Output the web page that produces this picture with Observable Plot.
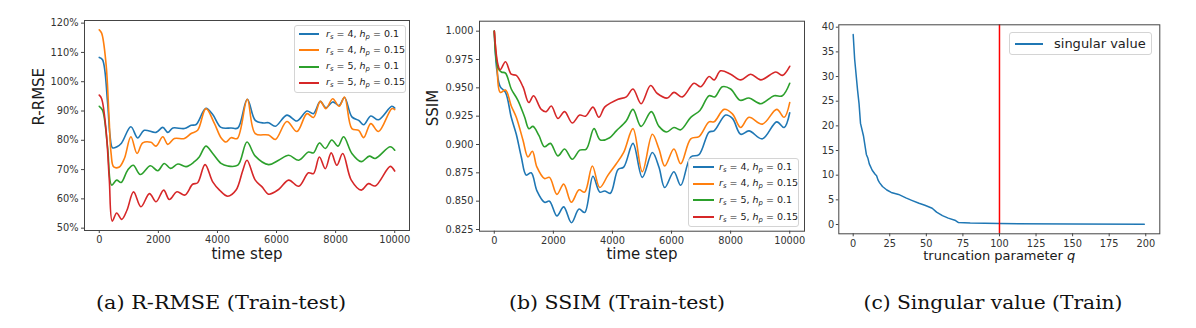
<!DOCTYPE html>
<html><head><meta charset="utf-8">
<script src="https://cdn.jsdelivr.net/npm/d3@7"></script>
<script src="https://cdn.jsdelivr.net/npm/@observablehq/plot@0.6"></script>
<style>
body{margin:0;background:#fff;}
#root{position:relative;width:1196px;height:328px;overflow:hidden;font-family:"DejaVu Sans",sans-serif;background:#fff;}
.panel{position:absolute;top:0;}
.legend{position:absolute;background:rgba(255,255,255,0.85);border:1px solid #d4d4d4;border-radius:3px;box-sizing:border-box;}
.legend .sw{position:absolute;height:2px;}
.legend .lab{position:absolute;white-space:nowrap;color:#222;line-height:1;}
.legend .lab sub{font-size:72%;vertical-align:-2px;line-height:0;}
#caps{position:absolute;left:0;top:0;}
</style></head><body><div id="root"></div>
<script>
// ---------- data ----------
const seriesLabels = ["r_s = 4, h_p = 0.1", "r_s = 4, h_p = 0.15", "r_s = 5, h_p = 0.1", "r_s = 5, h_p = 0.15"];
const seriesColors = ["#1f77b4", "#ff7f0e", "#2ca02c", "#d62728"];

// (a) R-RMSE (%), [time step, value]
const rrmse_r4_h010 = [[0,108.3],[110,107.5],[280,93],[360,82],[450,77.4],[600,77.8],[750,79],[1070,84.6],[1300,80.8],[1520,83.4],[1920,82.7],[2150,84.4],[2320,82.7],[2490,84.2],[2880,84],[3110,85.1],[3280,85.4],[3610,90.9],[3840,88.8],[4120,84.4],[4460,84.2],[4690,84.2],[5010,94],[5280,86.8],[5560,85.9],[5730,86],[5960,84.8],[6350,88.6],[6690,86.6],[7030,90],[7250,89.1],[7480,93.3],[7670,91.1],[7900,93.1],[8120,91.9],[8300,94.6],[8550,88],[8780,86.8],[8950,85.3],[9190,88.3],[9450,87],[9900,91.6],[10000,91]];
const rrmse_r4_h015 = [[0,117.7],[80,116.6],[230,106],[330,88],[400,75.5],[490,70.9],[680,70.9],[850,73.8],[1070,81.2],[1280,75.5],[1470,79.1],[1750,79.3],[1920,78],[2150,81.2],[2320,78.6],[2540,80.6],[2880,80.6],[3110,82.3],[3330,83.4],[3610,90.8],[3900,85.7],[4120,80.9],[4290,79.4],[4460,80.9],[4670,80.6],[5010,94],[5280,82.3],[5730,81.8],[5960,80.3],[6350,86.4],[6690,83],[7030,89.1],[7250,87.8],[7480,93.3],[7670,90.8],[7900,94.2],[8120,91.6],[8300,94.8],[8550,84],[8780,83.4],[8950,80.9],[9190,85.7],[9450,83],[9900,90.8],[10000,90.5]];
const rrmse_r5_h010 = [[0,91.6],[110,90.3],[280,77.8],[420,64.7],[590,66.4],[740,65.6],[960,69.8],[1150,71.5],[1390,68.3],[1730,71.3],[1980,69.6],[2200,72.1],[2410,70.4],[2660,71.9],[2940,71],[3220,72.7],[3390,74.4],[3610,78],[3840,75.5],[4120,72.1],[4350,71.2],[4690,71.5],[5000,79.4],[5280,74.6],[5730,71.7],[6070,73.2],[6410,74.9],[6750,73.2],[7080,76],[7250,75.7],[7450,79.1],[7650,77.2],[7870,80.1],[8080,78],[8270,81.2],[8550,75.5],[8870,72.7],[9140,74.6],[9340,73.8],[9850,77.8],[10000,76.6]];
const rrmse_r5_h015 = [[0,95.4],[80,94.2],[230,83.4],[340,66.4],[440,52.4],[590,55.2],[760,53],[940,56.2],[1160,62.4],[1410,57.3],[1700,61.8],[1920,59],[2180,63],[2370,59.8],[2630,62.4],[2900,61.3],[3160,65],[3330,65.5],[3580,71.7],[3840,65.8],[4070,63],[4350,60.9],[4630,63],[4860,69.8],[5000,73.2],[5280,66.4],[5510,64.1],[5730,61.6],[6070,63.2],[6410,66.4],[6750,64.3],[7080,68.9],[7250,68.6],[7450,74.3],[7650,70.3],[7850,75.7],[8040,71.5],[8240,75.5],[8530,66.4],[8870,63],[9110,65.2],[9340,64.4],[9850,71.1],[10000,69.5]];

// (b) SSIM, [time step, value]
const ssim_r4_h010 = [[0,1.0],[90,0.965],[200,0.951],[380,0.946],[575,0.924],[745,0.909],[915,0.889],[1080,0.873],[1250,0.875],[1445,0.859],[1700,0.849],[1870,0.85],[2120,0.837],[2350,0.845],[2610,0.831],[2870,0.843],[3060,0.84],[3340,0.872],[3570,0.858],[3735,0.859],[3930,0.857],[4190,0.878],[4380,0.88],[4695,0.901],[5010,0.871],[5350,0.893],[5575,0.88],[5770,0.862],[6080,0.876],[6310,0.864],[6650,0.889],[6930,0.891],[7270,0.911],[7440,0.912],[7830,0.926],[8060,0.923],[8340,0.909],[8620,0.912],[9075,0.905],[9560,0.92],[9810,0.915],[10000,0.928]];
const ssim_r4_h015 = [[0,1.0],[90,0.971],[200,0.946],[380,0.948],[575,0.934],[745,0.924],[970,0.904],[1140,0.889],[1290,0.894],[1445,0.88],[1700,0.87],[1870,0.871],[2120,0.856],[2350,0.865],[2610,0.849],[2870,0.86],[3060,0.858],[3320,0.881],[3570,0.862],[3850,0.873],[4130,0.883],[4380,0.893],[4695,0.914],[5010,0.876],[5350,0.909],[5575,0.896],[5770,0.881],[6080,0.896],[6310,0.883],[6650,0.905],[6930,0.907],[7270,0.92],[7440,0.92],[7780,0.931],[8060,0.927],[8340,0.915],[8620,0.924],[9075,0.918],[9560,0.931],[9810,0.924],[10000,0.937]];
const ssim_r5_h010 = [[0,1.0],[120,0.968],[240,0.964],[380,0.963],[575,0.949],[800,0.939],[1030,0.924],[1170,0.914],[1310,0.916],[1510,0.908],[1700,0.898],[1900,0.901],[2155,0.89],[2380,0.896],[2640,0.887],[2890,0.895],[3115,0.896],[3375,0.914],[3590,0.904],[3905,0.906],[4130,0.912],[4470,0.921],[4695,0.931],[4970,0.916],[5315,0.929],[5575,0.916],[5835,0.911],[6080,0.915],[6310,0.913],[6650,0.924],[6960,0.93],[7270,0.943],[7460,0.942],[7720,0.951],[8000,0.949],[8320,0.939],[8620,0.941],[9020,0.936],[9470,0.943],[9750,0.943],[10000,0.954]];
const ssim_r5_h015 = [[0,1.0],[120,0.971],[200,0.966],[380,0.973],[575,0.962],[745,0.961],[970,0.951],[1170,0.937],[1330,0.943],[1590,0.931],[1760,0.929],[1930,0.934],[2155,0.923],[2380,0.929],[2640,0.919],[2890,0.926],[3090,0.925],[3340,0.933],[3540,0.924],[3735,0.933],[3960,0.937],[4190,0.94],[4470,0.942],[4695,0.949],[4970,0.936],[5290,0.952],[5520,0.945],[5860,0.941],[6080,0.946],[6365,0.942],[6760,0.954],[6990,0.951],[7270,0.96],[7440,0.957],[7660,0.965],[8000,0.962],[8340,0.957],[8680,0.962],[9020,0.957],[9530,0.964],[9750,0.961],[10000,0.969]];

// (c) singular values, [q, value]
const singularValues = [[0,38.5],[1,33.5],[3,27.2],[4,24.5],[5,20.5],[7,18],[9,14.2],[10,13.5],[11,12.3],[13,11],[15,10.2],[16,9.9],[17,9],[18,8.5],[20,7.7],[23,7],[26,6.5],[31,6.1],[36,5.4],[40,4.9],[45,4.3],[49,3.9],[54,3.3],[57,2.5],[61,1.8],[65,1.3],[70,0.8],[72,0.4],[80,0.3],[100,0.2],[150,0.1],[199,0.05]];
const truncationLine = [100];

// tick values
const timeTicks = [0, 2000, 4000, 6000, 8000, 10000];
const rrmseTicks = [50, 60, 70, 80, 90, 100, 110, 120];
const ssimTicks = [0.825, 0.85, 0.875, 0.9, 0.925, 0.95, 0.975, 1.0];
const qTicks = [0, 25, 50, 75, 100, 125, 150, 175, 200];
const svTicks = [0, 5, 10, 15, 20, 25, 30, 35, 40];
const captions = ["(a) R-RMSE (Train-test)", "(b) SSIM (Train-test)", "(c) Singular value (Train)"];

// ---------- drawing ----------
const root = document.getElementById("root");
const baseStyle = {fontFamily: "DejaVu Sans", fontSize: "9.8px", background: "transparent", color: "#333", overflow: "visible"};
const frameColor = "#444";
const plain = d => String(d);

function linesFor(arrs) {
  return arrs.map((a, i) => Plot.line(a, {x: d => d[0], y: d => d[1], stroke: seriesColors[i], strokeWidth: 1.6, curve: "catmull-rom"}));
}

function place(svg, left) {
  svg.classList.add("panel");
  svg.style.left = left + "px";
  root.appendChild(svg);
}

// panel a
const pa = Plot.plot({
  width: 420, height: 270, marginLeft: 84, marginRight: 11, marginTop: 20, marginBottom: 40,
  style: baseStyle,
  x: {domain: [-500, 10500]},
  y: {domain: [49.2, 120.9]},
  marks: [
    ...linesFor([rrmse_r4_h010, rrmse_r4_h015, rrmse_r5_h010, rrmse_r5_h015]),
    Plot.axisX({ticks: timeTicks, tickFormat: plain, tickSize: 3, tickPadding: 3, label: null, stroke: frameColor}),
    Plot.axisY({ticks: rrmseTicks, tickFormat: d => d + "%", tickSize: 3, tickPadding: 3, label: null, stroke: frameColor}),
    Plot.frame({stroke: frameColor, strokeWidth: 1}),
    Plot.text(["time step"], {text: d => d, frameAnchor: "bottom", dy: 28, fontSize: 15, fill: "#1a1a1a"}),
    Plot.text(["R-RMSE"], {text: d => d, frameAnchor: "left", dx: -45, rotate: -90, fontSize: 15, fill: "#1a1a1a"})
  ]
});
place(pa, 0);

// panel b
const pb = Plot.plot({
  width: 400, height: 271, marginLeft: 64, marginRight: 11, marginTop: 20.7, marginBottom: 40.3,
  style: baseStyle,
  x: {domain: [-500, 10500]},
  y: {domain: [0.8235, 1.0088]},
  marks: [
    ...linesFor([ssim_r4_h010, ssim_r4_h015, ssim_r5_h010, ssim_r5_h015]),
    Plot.axisX({ticks: timeTicks, tickFormat: plain, tickSize: 3, tickPadding: 3, label: null, stroke: frameColor}),
    Plot.axisY({ticks: ssimTicks, tickFormat: d3.format(".3f"), tickSize: 3, tickPadding: 3, label: null, stroke: frameColor}),
    Plot.frame({stroke: frameColor, strokeWidth: 1}),
    Plot.text(["time step"], {text: d => d, frameAnchor: "bottom", dy: 27.5, fontSize: 15, fill: "#1a1a1a"}),
    Plot.text(["SSIM"], {text: d => d, frameAnchor: "left", dx: -46.5, rotate: -90, fontSize: 15, fill: "#1a1a1a"})
  ]
});
place(pb, 415);

// panel c
const pc = Plot.plot({
  width: 381, height: 274, marginLeft: 23.3, marginRight: 36.7, marginTop: 24.3, marginBottom: 40.7,
  style: baseStyle,
  x: {domain: [-9.84, 209.6]},
  y: {domain: [-1.885, 40.49]},
  marks: [
    Plot.line(singularValues, {x: d => d[0], y: d => d[1], stroke: "#1f77b4", strokeWidth: 1.5}),
    Plot.ruleX(truncationLine, {stroke: "#ff0000", strokeWidth: 1.5}),
    Plot.axisX({ticks: qTicks, tickFormat: plain, tickSize: 3, tickPadding: 3, label: null, stroke: frameColor}),
    Plot.axisY({ticks: svTicks, tickFormat: plain, tickSize: 2.5, tickPadding: 2, label: null, stroke: frameColor}),
    Plot.frame({stroke: frameColor, strokeWidth: 1}),
    Plot.text(["truncation parameter q"], {text: d => d, frameAnchor: "bottom", dy: 25.7, fontSize: 13, fill: "#1a1a1a"})
  ]
});
place(pc, 815);
d3.select(pc).selectAll("text").filter(function() { return this.textContent === "truncation parameter q"; })
  .each(function() {
    const el = d3.select(this);
    el.text(null);
    el.append("tspan").text("truncation parameter ");
    el.append("tspan").attr("font-style", "italic").text("q");
  });

// legends
function mathLabel(s) {
  return s.replace(/([a-z])_([a-z])/g, "<i>$1<sub>$2</sub></i>");
}
function legend(box, rows, sw, textX, fontSize, labels, colors) {
  const div = document.createElement("div");
  div.className = "legend";
  Object.assign(div.style, {left: box[0] + "px", top: box[1] + "px", width: box[2] + "px", height: box[3] + "px"});
  labels.forEach((lab, i) => {
    const line = document.createElement("div");
    line.className = "sw";
    Object.assign(line.style, {left: sw[0] + "px", width: (sw[1] - sw[0]) + "px", top: Math.round(rows[i] - 1) + "px", background: colors[i]});
    div.appendChild(line);
    const t = document.createElement("div");
    t.className = "lab";
    t.innerHTML = mathLabel(lab);
    Object.assign(t.style, {left: textX + "px", top: (rows[i] - fontSize * 0.55) + "px", fontSize: fontSize + "px"});
    div.appendChild(t);
  });
  root.appendChild(div);
}
legend([294, 25, 112, 68], [8.3, 24.3, 40.7, 56.7], [3.7, 24.3], 31, 9.5, seriesLabels, seriesColors);
legend([688, 158, 111, 69], [8, 24.7, 41.3, 58], [3.7, 24.7], 30, 9.5, seriesLabels, seriesColors);
legend([1009, 31.7, 143, 23], [11], [5, 32.7], 44, 13, ["singular value"], ["#1f77b4"]);

// captions
const caps = d3.select(root).append("svg").attr("id", "caps").attr("width", 1196).attr("height", 328);
const capX = [221, 617, 993], capW = [250, 216, 259];
caps.selectAll("text").data(captions).join("text")
  .attr("x", (d, i) => capX[i]).attr("y", 308.5)
  .attr("text-anchor", "middle")
  .attr("font-family", "DejaVu Serif").attr("font-size", 18).attr("fill", "#111")
  .attr("textLength", (d, i) => capW[i]).attr("lengthAdjust", "spacingAndGlyphs")
  .text(d => d);
</script></body></html>
